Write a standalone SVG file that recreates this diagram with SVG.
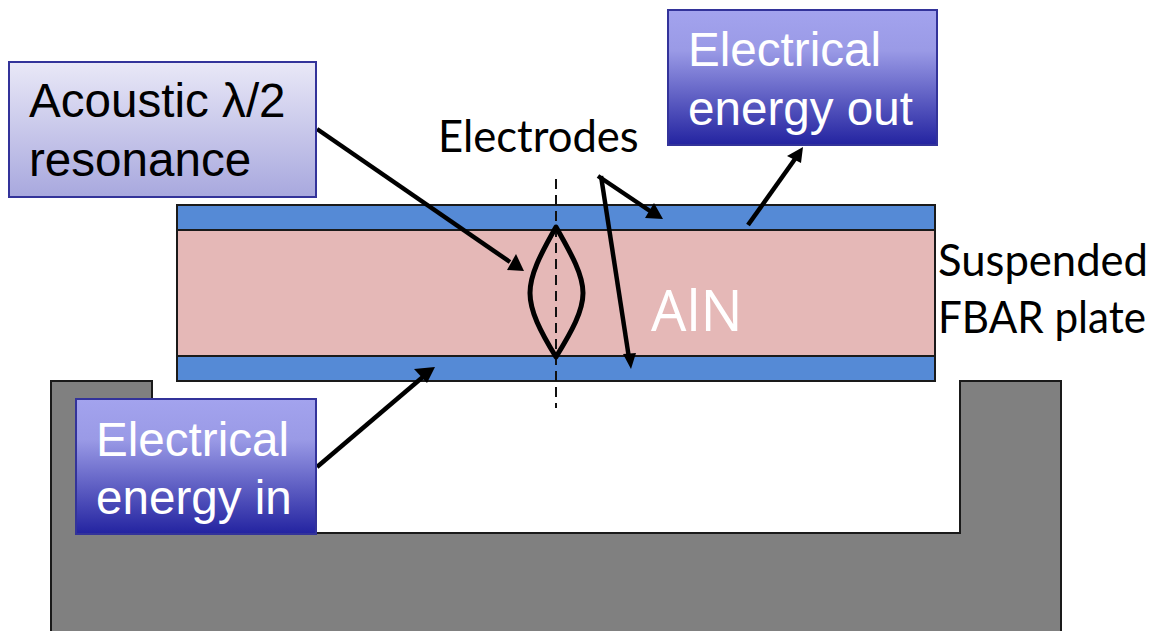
<svg xmlns="http://www.w3.org/2000/svg" width="1152" height="631" viewBox="0 0 1152 631">
<style>
.s{font-family:"Liberation Sans",Arial,sans-serif;font-size:47.6px}
.c{font-family:Lato,"Open Sans",sans-serif;font-size:43.6px;fill:#000}
.w{fill:#fff}
.k{fill:#000}
.box{stroke:#33339a;stroke-width:2}
.elec{fill:#558ad6;stroke:#1a1a1a;stroke-width:2}
.ar{fill:none;stroke:#000;stroke-width:4.5}
</style>
<defs>
<linearGradient id="light" x1="0" y1="0" x2="0" y2="1"><stop offset="0" stop-color="#e9e8f7"/><stop offset="1" stop-color="#a8a8de"/></linearGradient>
<linearGradient id="dark" x1="0" y1="0" x2="0" y2="1"><stop offset="0" stop-color="#a3a3ee"/><stop offset="0.3" stop-color="#9a9ae6"/><stop offset="1" stop-color="#2323a0"/></linearGradient>
</defs>
<g id="substrate"><path d="M51 640V381H152V533H960V381H1061V640Z" fill="#808080" stroke="#1a1a1a" stroke-width="2"/></g>
<g id="plate">
<rect x="177" y="230" width="758" height="126" fill="#e5b8b7" stroke="#1a1a1a" stroke-width="2"/>
<rect class="elec" x="177" y="205" width="758" height="25"/>
<rect class="elec" x="177" y="356" width="758" height="25"/>
<text x="651" y="331" font-family="'Open Sans','DejaVu Sans',sans-serif" font-size="56" class="w">AlN</text>
</g>
<g id="wave">
<path d="M556 179V408" fill="none" stroke="#111" stroke-width="2" stroke-dasharray="10 6"/>
<path d="M556 227C540 255 530 275 530 293C530 311 540 331 556 357C572 331 583 311 583 293C583 275 572 255 556 227Z" fill="none" stroke="#000" stroke-width="5" stroke-linejoin="round"/>
</g>
<g id="connectors">
<path class="ar" d="M317 129L510 262"/>
<path d="M524 271L507 270L516 254Z"/>
<path class="ar" d="M317 467L424 376"/>
<path d="M435 367L427 383L414 369Z"/>
<path class="ar" d="M748 225L795 159"/>
<path d="M803 147L801 163L787 156Z"/>
<path class="ar" d="M598 176L650 211"/>
<path d="M663 219L645 218L654 203Z"/>
<path class="ar" d="M601 176L629 358"/>
<path d="M631 369L623 354L636 353Z"/>
</g>
<g id="node-resonance">
<rect class="box" x="9" y="62" width="307" height="135" fill="url(#light)"/>
<text class="s k" x="29" y="117">Acoustic λ/2</text>
<text class="s k" x="29" y="176">resonance</text>
</g>
<g id="node-in">
<rect class="box" x="76" y="399" width="240" height="135" fill="url(#dark)"/>
<text class="s w" x="96" y="456">Electrical</text>
<text class="s w" x="96" y="514">energy in</text>
</g>
<g id="node-out">
<rect class="box" x="668" y="10" width="269" height="135" fill="url(#dark)"/>
<text class="s w" x="688" y="66">Electrical</text>
<text class="s w" x="688" y="125">energy out</text>
</g>
<g id="labels">
<text class="c" x="438" y="152">Electrodes</text>
<text class="c" x="938" y="276">Suspended</text>
<text class="c" x="938" y="333" textLength="208" lengthAdjust="spacingAndGlyphs">FBAR plate</text>
</g>
</svg>
